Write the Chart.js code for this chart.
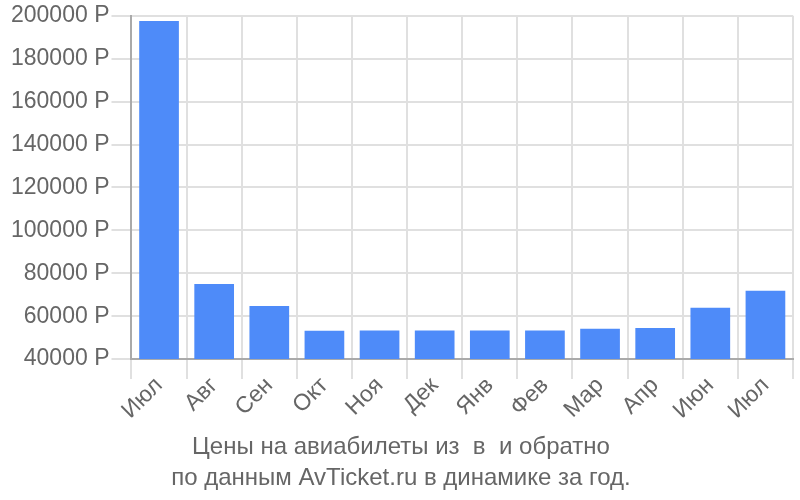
<!DOCTYPE html>
<html>
<head>
<meta charset="utf-8">
<script src="https://cdn.jsdelivr.net/npm/chart.js@4"></script>
<style>
    body { margin: 0; background: #fff; }
    #wrap { width: 800px; height: 500px; }
</style>
</head>
<body>
<div id="wrap"><canvas id="price-chart" width="800" height="500"></canvas></div>
<script>
const months = ['Июл', 'Авг', 'Сен', 'Окт', 'Ноя', 'Дек', 'Янв', 'Фев', 'Мар', 'Апр', 'Июн', 'Июл'];
const prices = [197600, 75000, 64700, 53200, 53300, 53300, 53300, 53300, 54100, 54500, 63900, 71800];
const titleLines = ['Цены на авиабилеты из  в  и обратно', 'по данным AvTicket.ru в динамике за год.'];

const textColor = '#666';
const fontFamily = '"Liberation Sans", Arial, sans-serif';

const priceChart = new Chart(document.getElementById('price-chart'), {
    type: 'bar',
    data: {
        labels: months,
        datasets: [{
            data: prices,
            backgroundColor: '#4e8bf9',
            borderWidth: 0
        }]
    },
    options: {
        responsive: false,
        animation: false,
        layout: { padding: { top: 2, right: 7, left: 9, bottom: 4 } },
        plugins: {
            legend: { display: false },
            tooltip: { enabled: false },
            title: {
                display: true,
                position: 'bottom',
                text: titleLines,
                color: textColor,
                font: { family: fontFamily, size: 24, weight: 'normal', lineHeight: 1.3 },
                padding: { top: 14, bottom: 2 }
            }
        },
        scales: {
            x: {
                grid: { color: '#e0e0e0', lineWidth: 2, tickLength: 20, offset: true },
                border: { color: '#aaa', width: 2 },
                ticks: {
                    color: textColor,
                    font: { family: fontFamily, size: 23 },
                    minRotation: 45,
                    maxRotation: 45,
                    padding: -7
                }
            },
            y: {
                min: 40000,
                max: 200000,
                grid: { color: '#e0e0e0', lineWidth: 2, tickLength: 20 },
                border: { color: '#aaa', width: 2 },
                ticks: {
                    stepSize: 20000,
                    color: textColor,
                    font: { family: fontFamily, size: 23 },
                    padding: 2,
                    callback: value => value + ' Р'
                }
            }
        }
    }
});
</script>
</body>
</html>
